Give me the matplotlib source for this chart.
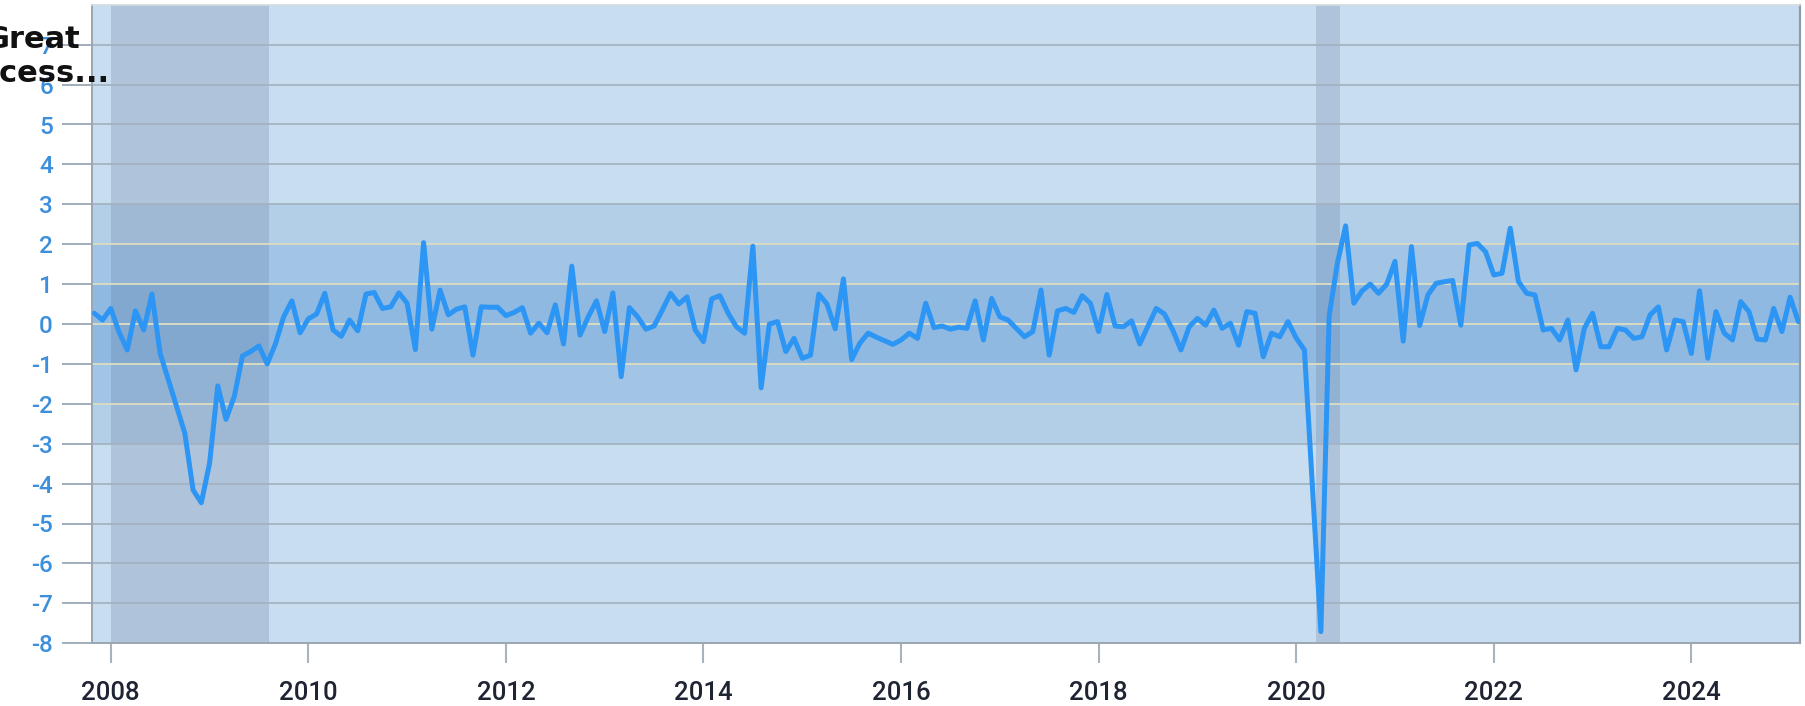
import matplotlib
matplotlib.use("Agg")
import matplotlib.pyplot as plt
import numpy as np

# ---- data -------------------------------------------------------------
start_year = 2007
start_month = 11  # first observation: Nov 2007, monthly

values = [
    0.27, 0.10, 0.39, -0.20, -0.65, 0.33, -0.15, 0.75, -0.74, -1.40,
    -2.07, -2.74, -4.16, -4.48, -3.49, -1.55, -2.39, -1.82, -0.80, -0.69,
    -0.55, -1.00, -0.50, 0.18, 0.58, -0.22, 0.13, 0.25, 0.77, -0.15,
    -0.31, 0.10, -0.17, 0.75, 0.79, 0.39, 0.43, 0.78, 0.52, -0.64,
    2.04, -0.13, 0.85, 0.23, 0.37, 0.43, -0.78, 0.43, 0.42, 0.42,
    0.21, 0.29, 0.41, -0.23, 0.02, -0.22, 0.48, -0.50, 1.45, -0.28,
    0.18, 0.58, -0.19, 0.78, -1.32, 0.41, 0.18, -0.13, -0.05, 0.35,
    0.77, 0.50, 0.68, -0.15, -0.44, 0.63, 0.71, 0.27, -0.07, -0.23,
    1.95, -1.60, 0.00, 0.06, -0.69, -0.36, -0.86, -0.78, 0.75, 0.50,
    -0.12, 1.13, -0.89, -0.48, -0.23, -0.33, -0.42, -0.51, -0.40, -0.23,
    -0.36, 0.52, -0.09, -0.05, -0.13, -0.08, -0.11, 0.58, -0.40, 0.64,
    0.18, 0.10, -0.11, -0.32, -0.19, 0.85, -0.78, 0.33, 0.39, 0.29,
    0.71, 0.52, -0.19, 0.74, -0.05, -0.07, 0.08, -0.50, -0.05, 0.39,
    0.25, -0.15, -0.65, -0.07, 0.14, -0.03, 0.35, -0.11, 0.02, -0.53,
    0.31, 0.27, -0.82, -0.23, -0.32, 0.06, -0.35, -0.65, -4.20, -7.71,
    0.20, 1.52, 2.46, 0.52, 0.83, 1.00, 0.77, 1.00, 1.57, -0.43,
    1.94, -0.04, 0.73, 1.02, 1.06, 1.09, -0.03, 1.98, 2.02, 1.81,
    1.23, 1.27, 2.40, 1.06, 0.77, 0.73, -0.15, -0.11, -0.40, 0.10,
    -1.15, -0.11, 0.27, -0.57, -0.57, -0.11, -0.15, -0.36, -0.32, 0.23,
    0.43, -0.65, 0.10, 0.06, -0.74, 0.83, -0.86, 0.31, -0.23, -0.40,
    0.56, 0.31, -0.38, -0.40, 0.39, -0.19, 0.67, 0.06,
]

recessions = [(2008.0, 2009.6), (2020.2, 2020.44)]
recession_label = ["Great", "Recess..."]

x_ticks = [2008, 2010, 2012, 2014, 2016, 2018, 2020, 2022, 2024]
y_ticks = list(range(-8, 8))

# band half-widths (nested shaded zones around zero)
bands = [3, 2, 1]
band_colors = ["#b3cfe8", "#a2c5e6", "#8fb9e0"]

# ---- figure -----------------------------------------------------------
W, H = 1806, 706
fig = plt.figure(figsize=(W / 100, H / 100), dpi=100)
fig.patch.set_facecolor("white")
ax = fig.add_axes([92 / W, 1 - 643.2 / H, 1708 / W, (643.2 - 4.8) / H])
ax.set_facecolor("#c8ddef")

months = np.arange(len(values))
t = start_year + (start_month - 1) / 12 + months / 12.0

for b, c in zip(bands, band_colors):
    ax.axhspan(-b, b, color=c, zorder=0.5, lw=0)

for a, b in recessions:
    ax.axvspan(a, b, color="#5a6f94", alpha=0.22, lw=0, zorder=1.5)

for v in y_ticks[1:]:
    if abs(v) <= 2:
        ax.axhline(v, color="#d8dbc2", lw=1.4, zorder=1.7)
    else:
        ax.axhline(v, color="#a3b3c2", lw=1.3, zorder=1.7)

ax.plot(t, values, color="#2d96f5", lw=3.6, solid_joinstyle="round",
        solid_capstyle="round", zorder=3)

ax.set_xlim(2007.81, 2025.1)
ax.set_ylim(-8, 8)

ax.set_xticks(x_ticks)
ax.set_xticklabels([str(x) for x in x_ticks])
ax.set_yticks(y_ticks)
ax.set_yticklabels([str(v) for v in y_ticks])

ax.tick_params(axis="y", length=21.6, width=1.3, color="#9aa7b3", pad=6.5,
               labelsize=17.5, labelcolor="#3d8fdc")
ax.tick_params(axis="x", length=14.4, width=1.5, color="#a9b3bc", pad=13,
               labelsize=18.5, labelcolor="#1f2433")
for lab in ax.get_xticklabels() + ax.get_yticklabels():
    lab.set_fontfamily(["Roboto", "DejaVu Sans"])
    lab.set_fontweight("medium")

for s in ["left", "bottom"]:
    ax.spines[s].set_color("#9aa7b3")
    ax.spines[s].set_linewidth(1.4)
ax.spines["right"].set_color("#8f9ba6")
ax.spines["right"].set_linewidth(1.6)
ax.spines["top"].set_color("#d3dbe1")
ax.spines["top"].set_linewidth(1.2)

fig.text(32 / W, 1 - 48 / H, recession_label[0], ha="center", va="baseline",
         fontsize=22, fontweight="bold", color="#111111",
         family=["DejaVu Sans"])
fig.text(32 / W, 1 - 82 / H, recession_label[1], ha="center", va="baseline",
         fontsize=22, fontweight="bold", color="#111111",
         family=["DejaVu Sans"])

fig.savefig("out.png", dpi=100, facecolor="white")
